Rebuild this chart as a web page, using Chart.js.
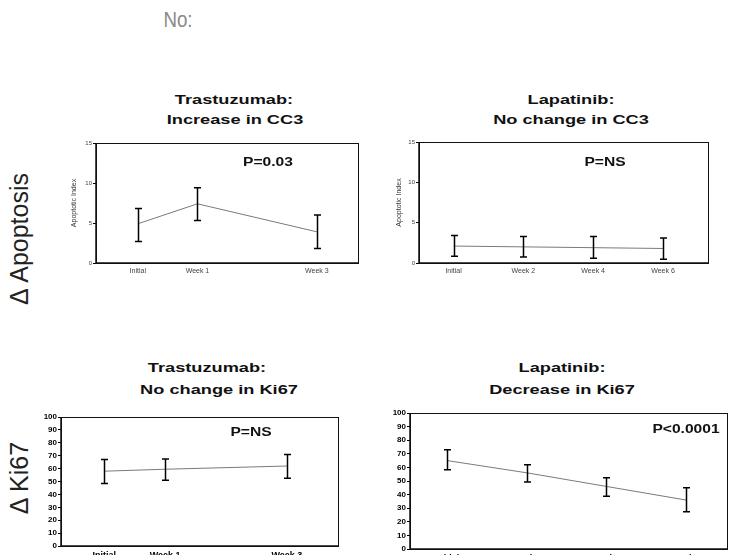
<!DOCTYPE html>
<html>
<head>
<meta charset="utf-8">
<script src="https://cdn.jsdelivr.net/npm/chart.js@4.4.1/dist/chart.umd.min.js"></script>
<style>
    html, body { margin: 0; padding: 0; background: #fff; overflow: hidden; }
    body { width: 730px; height: 555px; position: relative; font-family: "Liberation Sans", Arial, sans-serif; }
    canvas { position: absolute; }
    .txt { position: absolute; white-space: nowrap; line-height: 1; }
    .title { font-weight: bold; font-size: 13px; color: #111; transform: translate(-50%, -50%) scaleX(1.4); }
    .pval { font-weight: bold; font-size: 12px; color: #111; transform: translate(-50%, -50%) scaleX(1.3); }
    .side { font-size: 25px; color: #222; transform: translate(-50%, -50%) rotate(-90deg); }
</style>
</head>
<body>
<div class="txt" style="left:178px; top:20px; font-size:22px; color:#8a8a8a; transform:translate(-50%,-50%) scaleX(0.85);">No:</div>

<div class="txt side" style="left:19px; top:239px;">Δ Apoptosis</div>
<div class="txt side" style="left:19px; top:478px;">Δ Ki67</div>

<div class="txt title" style="left:234px; top:99px;">Trastuzumab:</div>
<div class="txt title" style="left:235px; top:119px;">Increase in CC3</div>
<div class="txt title" style="left:571px; top:99px;">Lapatinib:</div>
<div class="txt title" style="left:571px; top:119px;">No change in CC3</div>
<div class="txt title" style="left:207px; top:367px;">Trastuzumab:</div>
<div class="txt title" style="left:219px; top:389px;">No change in Ki67</div>
<div class="txt title" style="left:562px; top:367px;">Lapatinib:</div>
<div class="txt title" style="left:562px; top:389px;">Decrease in Ki67</div>

<canvas id="cc3-tras"></canvas>
<canvas id="cc3-lap"></canvas>
<canvas id="ki67-tras"></canvas>
<canvas id="ki67-lap"></canvas>

<div class="txt pval" style="left:268px; top:162px;">P=0.03</div>
<div class="txt pval" style="left:605px; top:162px;">P=NS</div>
<div class="txt pval" style="left:251px; top:432px;">P=NS</div>
<div class="txt pval" style="left:686px; top:429px;">P&lt;0.0001</div>

<script>
// trastuzumab, cleaved caspase 3
const cc3TrasLabels = ["Initial", "Week 1", "Week 3"];
const cc3TrasWeeks = [0, 1, 3];
const cc3TrasMean = [4.9, 7.4, 3.9];
const cc3TrasLow = [2.7, 5.3, 1.8];
const cc3TrasHigh = [6.8, 9.4, 6.0];

// lapatinib, cleaved caspase 3
const cc3LapLabels = ["Initial", "Week 2", "Week 4", "Week 6"];
const cc3LapWeeks = [0, 2, 4, 6];
const cc3LapMean = [2.1, 2.0, 1.9, 1.8];
const cc3LapLow = [0.85, 0.75, 0.6, 0.45];
const cc3LapHigh = [3.4, 3.3, 3.3, 3.1];

// trastuzumab, Ki67
const ki67TrasLabels = ["Initial", "Week 1", "Week 3"];
const ki67TrasWeeks = [0, 1, 3];
const ki67TrasMean = [58, 59.5, 62];
const ki67TrasLow = [48.5, 51, 52.5];
const ki67TrasHigh = [67, 67.5, 71];

// lapatinib, Ki67
const ki67LapLabels = ["Initial", "Week 2", "Week 4", "Week 6"];
const ki67LapWeeks = [0, 2, 4, 6];
const ki67LapMean = [65, 56, 46, 36];
const ki67LapLow = [58.2, 49.2, 38.8, 27.3];
const ki67LapHigh = [73, 62, 52.3, 45];

const FONT = '"Liberation Sans", Arial, sans-serif';

const errorBars = {
    id: "errorBars",
    afterDatasetsDraw(chart) {
        const {ctx, scales: {x, y}} = chart;
        const ds = chart.data.datasets[0];
        const cap = 3.5;
        ctx.save();
        ctx.strokeStyle = "#000";
        ctx.lineWidth = 1.5;
        ds.data.forEach((pt, i) => {
            const px = Math.round(x.getPixelForValue(pt.x)) + 0.5;
            const top = y.getPixelForValue(ds.errHigh[i]);
            const bot = y.getPixelForValue(ds.errLow[i]);
            ctx.beginPath();
            ctx.moveTo(px, top);
            ctx.lineTo(px, bot);
            ctx.moveTo(px - cap, top);
            ctx.lineTo(px + cap, top);
            ctx.moveTo(px - cap, bot);
            ctx.lineTo(px + cap, bot);
            ctx.stroke();
        });
        ctx.restore();
    }
};

const frame = {
    id: "frame",
    afterDraw(chart) {
        const {ctx, chartArea: a} = chart;
        ctx.save();
        ctx.strokeStyle = "#111";
        ctx.lineWidth = 1;
        ctx.strokeRect(a.left + 0.5, a.top + 0.5, a.right - a.left, a.bottom - a.top);
        ctx.lineWidth = 1.5;
        ctx.beginPath();
        ctx.moveTo(a.left, a.top);
        ctx.lineTo(a.left, a.bottom);
        ctx.lineTo(a.right, a.bottom);
        ctx.stroke();
        ctx.restore();
    }
};

function makeChart(id, area, yW, s) {
    const padTop = 8, padRight = 8, xH = 30;
    const canvas = document.getElementById(id);
    const w = yW + (area.r - area.l) + padRight;
    const h = padTop + (area.b - area.t) + xH;
    canvas.width = w;
    canvas.height = h;
    canvas.style.left = (area.l - yW) + "px";
    canvas.style.top = (area.t - padTop) + "px";
    canvas.style.width = w + "px";
    canvas.style.height = h + "px";

    return new Chart(canvas, {
        type: "line",
        data: {
            datasets: [{
                data: s.weeks.map((wk, i) => ({x: wk, y: s.mean[i]})),
                errLow: s.low,
                errHigh: s.high,
                borderColor: "#7a7a7a",
                borderWidth: 1,
                pointRadius: 0,
                tension: 0,
            }],
        },
        options: {
            responsive: false,
            animation: false,
            layout: {padding: {top: padTop, right: padRight, left: 0, bottom: 0}},
            plugins: {
                legend: {display: false},
                tooltip: {enabled: false},
            },
            scales: {
                x: {
                    type: "linear",
                    min: s.xMin,
                    max: s.xMax,
                    afterBuildTicks: (sc) => { sc.ticks = s.weeks.map(v => ({value: v})); },
                    afterFit: (sc) => { sc.height = xH; },
                    grid: {display: false, drawTicks: false},
                    border: {display: false},
                    ticks: {
                        callback: (v) => s.labels[s.weeks.indexOf(v)],
                        font: s.xFont,
                        color: s.tickColor,
                        padding: 4,
                        maxRotation: 0,
                        autoSkip: false,
                    },
                },
                y: {
                    min: 0,
                    max: s.yMax,
                    afterFit: (sc) => { sc.width = yW; },
                    grid: {drawOnChartArea: false, tickLength: 3, color: "#000", lineWidth: 1},
                    border: {display: false},
                    ticks: {stepSize: s.yStep, font: s.yFont, color: s.tickColor, padding: 1},
                    title: {
                        display: !!s.yTitle,
                        text: s.yTitle || "",
                        font: {family: '"Liberation Sans Narrow", ' + FONT, size: 7},
                        color: "#333",
                        padding: 0,
                    },
                },
            },
        },
        plugins: [errorBars, frame],
    });
}

makeChart("cc3-tras", {l: 96, t: 143, r: 358, b: 263}, 26, {
    labels: cc3TrasLabels, weeks: cc3TrasWeeks, mean: cc3TrasMean, low: cc3TrasLow, high: cc3TrasHigh,
    xMin: -0.7, xMax: 3.69, yMax: 15, yStep: 5, yTitle: "Apoptotic Index",
    xFont: {family: FONT, size: 7}, yFont: {family: FONT, size: 6}, tickColor: "#444",
});

makeChart("cc3-lap", {l: 419, t: 142, r: 708, b: 263}, 24, {
    labels: cc3LapLabels, weeks: cc3LapWeeks, mean: cc3LapMean, low: cc3LapLow, high: cc3LapHigh,
    xMin: -0.99, xMax: 7.29, yMax: 15, yStep: 5, yTitle: "Apoptotic Index",
    xFont: {family: FONT, size: 7}, yFont: {family: FONT, size: 6}, tickColor: "#444",
});

makeChart("ki67-tras", {l: 61, t: 417, r: 338, b: 546}, 25, {
    labels: ki67TrasLabels, weeks: ki67TrasWeeks, mean: ki67TrasMean, low: ki67TrasLow, high: ki67TrasHigh,
    xMin: -0.71, xMax: 3.84, yMax: 100, yStep: 10,
    xFont: {family: FONT, size: 9, weight: "bold"}, yFont: {family: FONT, size: 8, weight: "bold"}, tickColor: "#000",
});

makeChart("ki67-lap", {l: 410, t: 413, r: 727, b: 549}, 25, {
    labels: ki67LapLabels, weeks: ki67LapWeeks, mean: ki67LapMean, low: ki67LapLow, high: ki67LapHigh,
    xMin: -0.94, xMax: 7.03, yMax: 100, yStep: 10,
    xFont: {family: FONT, size: 9, weight: "bold"}, yFont: {family: FONT, size: 8, weight: "bold"}, tickColor: "#000",
});
</script>
</body>
</html>
